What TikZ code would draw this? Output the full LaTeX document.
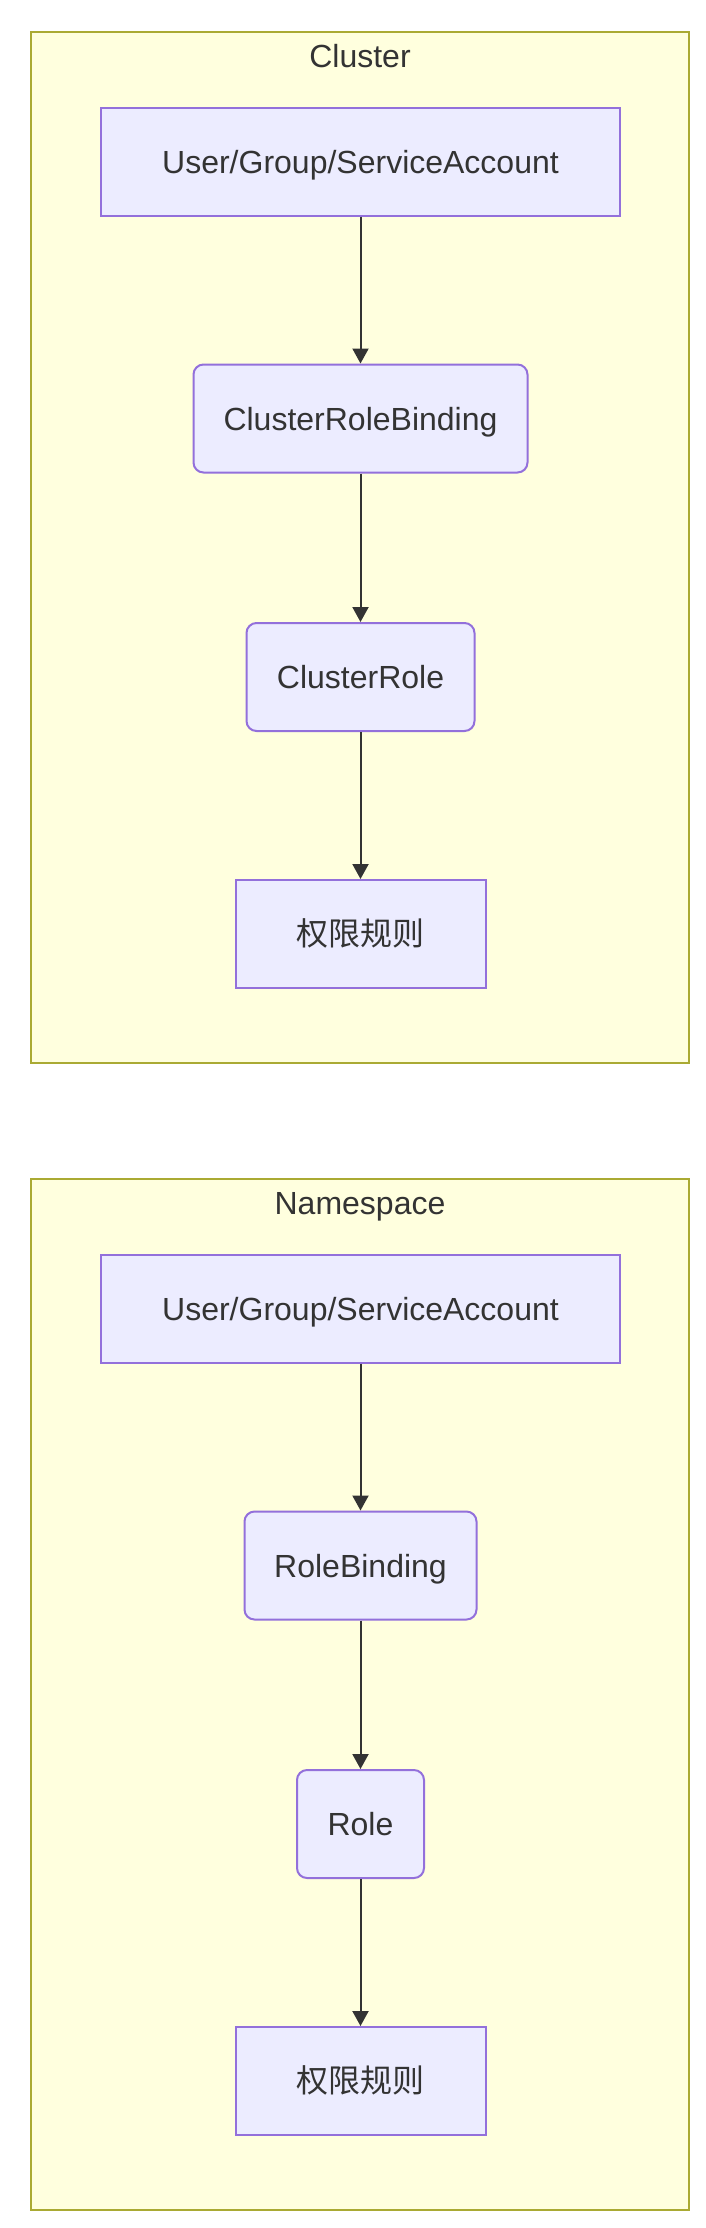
\documentclass[tikz,border=0pt]{standalone}
\usepackage{fontspec}
\setmainfont{Liberation Sans}
\newfontfamily\cjk{Noto Sans CJK SC}
\usetikzlibrary{arrows.meta}
\definecolor{clfill}{HTML}{FFFFDE}
\definecolor{cldraw}{HTML}{AAAA33}
\definecolor{ndfill}{HTML}{ECECFF}
\definecolor{nddraw}{HTML}{9370DB}
\definecolor{txt}{HTML}{333333}
\begin{document}
\begin{tikzpicture}[x=1pt,y=-1pt,
  cluster/.style={draw=cldraw,fill=clfill,line width=2pt,inner sep=0pt},
  cltitle/.style={text=txt,font=\fontsize{32}{38}\selectfont,inner sep=0pt,text height=23pt,text depth=0pt},
  sqbox/.style={draw=nddraw,fill=ndfill,line width=2pt,text=txt,font=\fontsize{32}{38}\selectfont,minimum height=108pt,inner sep=0pt,text height=23pt,text depth=0pt},
  rdbox/.style={sqbox,rounded corners=10pt},
  link/.style={draw=txt,line width=2pt,-{Triangle[length=15pt,width=16pt]}}]
\useasboundingbox (0,0) rectangle (705,2228);
\fill[white] (0,0) rectangle (705,2228);
% Cluster
\node[cluster,minimum width=658pt,minimum height=1031pt] (cl) at (360,547.5) {};
\node[cltitle] (clt) at (360,56) {Cluster};
\node[sqbox,minimum width=519pt] (u1) at (360.5,161.5) {User/Group/ServiceAccount};
\node[rdbox,minimum width=334pt] (crb) at (360.5,418.5) {ClusterRoleBinding};
\node[rdbox,minimum width=228pt] (cr) at (360.5,677) {ClusterRole};
\node[sqbox,minimum width=250pt] (p1) at (360.5,934) {\cjk 权限规则};
\draw[link] (u1) -- (crb);
\draw[link] (crb) -- (cr);
\draw[link] (cr) -- (p1);
% Namespace
\node[cluster,minimum width=658pt,minimum height=1031pt] (ns) at (360,1694.5) {};
\node[cltitle] (nst) at (360,1203) {Namespace};
\node[sqbox,minimum width=519pt] (u2) at (360.5,1308.5) {User/Group/ServiceAccount};
\node[rdbox,minimum width=232pt] (rb) at (360.5,1565.5) {RoleBinding};
\node[rdbox,minimum width=127pt] (ro) at (360.5,1824) {Role};
\node[sqbox,minimum width=250pt] (p2) at (360.5,2081) {\cjk 权限规则};
\draw[link] (u2) -- (rb);
\draw[link] (rb) -- (ro);
\draw[link] (ro) -- (p2);
\end{tikzpicture}
\end{document}
